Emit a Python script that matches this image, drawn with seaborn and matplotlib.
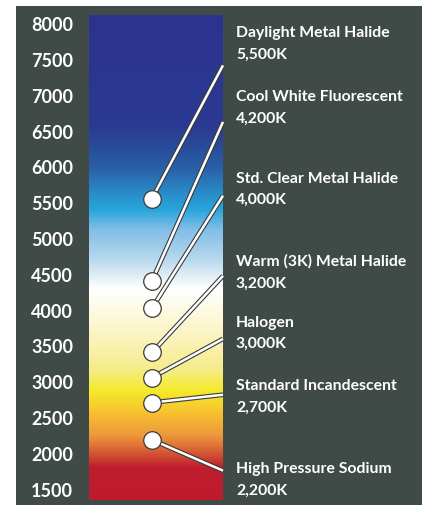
import numpy as np
import pandas as pd
import matplotlib
matplotlib.use("Agg")
import matplotlib.pyplot as plt
import matplotlib.patheffects as pe
from matplotlib.colors import LinearSegmentedColormap
from matplotlib.patches import Rectangle
import seaborn as sns

sns.set_theme(style="dark")
plt.rcParams["font.family"] = ["Lato", "DejaVu Sans"]

BG = "#404b48"

# lamp data
lamps = ["Daylight Metal Halide", "Cool White Fluorescent", "Std. Clear Metal Halide",
         "Warm (3K) Metal Halide", "Halogen", "Standard Incandescent", "High Pressure Sodium"]
kelvin = [5500, 4200, 4000, 3200, 3000, 2700, 2200]
marker_k = [5550, 4400, 4020, 3400, 3050, 2700, 2180]   # where the dots sit on the scale
leader_k = [7410, 6620, 5590, 4470, 3590, 2810, 1750]   # where the leader hits the bar edge
label_k = [7870, 6980, 5840, 4680, 3830, 2940, 1780]    # first text line of each label

ticks = [8000, 7500, 7000, 6500, 6000, 5500, 5000, 4500, 4000, 3500, 3000, 2500, 2000, 1500]

# colour stops of the temperature bar (kelvin, colour)
stop_k = [8120, 6600, 6340, 5960, 5680, 5400, 5130, 4710, 4430, 4290, 4010, 3590, 3170,
          2850, 2540, 2240, 1990, 1780, 1340]
stop_c = ["#2b338f", "#2b3992", "#2a4797", "#2862a8", "#2a86c4", "#26a5dc", "#7fbde6",
          "#b6d8ee", "#e7f1f8", "#ffffff", "#fdfbe6", "#fbf3bc", "#f6ec8c",
          "#f4ea2a", "#f8c030", "#ee9a3c", "#d55a33", "#be1e2e", "#be1c2d"]

YMIN, YMAX = 1340, 8120
BAR_W = 134
DOT_X = 63
TEXT_X = 147

fig = plt.figure(figsize=(4.22, 5.06), dpi=100, facecolor="white")
bg = fig.add_axes([16 / 422, 0, 1, (506 - 7) / 506], zorder=-5)
bg.set_axis_off()
bg.add_patch(Rectangle((0, 0), 1, 1, transform=bg.transAxes, facecolor=BG, edgecolor="none"))

ax = fig.add_axes([89 / 422, 5 / 506, 333 / 422, 485.5 / 506])
ax.set_facecolor("none")
for s in ax.spines.values():
    s.set_visible(False)

pos = [(k - YMIN) / (YMAX - YMIN) for k in stop_k[::-1]]
cmap = LinearSegmentedColormap.from_list("cct", list(zip(pos, stop_c[::-1])))
grad = np.linspace(YMIN, YMAX, 600).reshape(-1, 1)
ax.imshow(grad, cmap=cmap, vmin=YMIN, vmax=YMAX, origin="lower", aspect="auto",
          extent=[0, BAR_W, YMIN, YMAX], zorder=1)

# leader lines
for mk, lk in zip(marker_k, leader_k):
    ax.plot([DOT_X, BAR_W], [mk, lk], color="white", lw=1.8, zorder=2,
            solid_capstyle="butt",
            path_effects=[pe.Stroke(linewidth=3.4, foreground="#3a3a3a"), pe.Normal()])

df = pd.DataFrame({"x": [DOT_X] * len(marker_k), "y": marker_k})
sns.scatterplot(data=df, x="x", y="y", s=160, color="white", edgecolor="#3a3a3a",
                linewidth=0.9, ax=ax, zorder=3)

for name, k, ly in zip(lamps, kelvin, label_k):
    ax.annotate(name, xy=(TEXT_X, ly), va="center", ha="left", color="white",
                fontsize=11.3, fontweight="bold", annotation_clip=False)
    ax.annotate(f"{k:,}K", xy=(TEXT_X, ly), xytext=(0, -15.5), textcoords="offset points",
                va="center", ha="left", color="white", fontsize=11.3,
                fontweight="bold", annotation_clip=False)

ax.set_xlim(0, 333)
ax.set_ylim(YMIN, YMAX)
ax.set_xticks([])
ax.set_yticks(ticks)
ax.set_yticklabels([str(t) for t in ticks], color="white", fontsize=13, fontweight="bold")
ax.tick_params(axis="y", length=0, pad=11.5)
ax.set_xlabel("")
ax.set_ylabel("")
ax.grid(False)

fig.savefig("out.png", dpi=100, facecolor="white")
